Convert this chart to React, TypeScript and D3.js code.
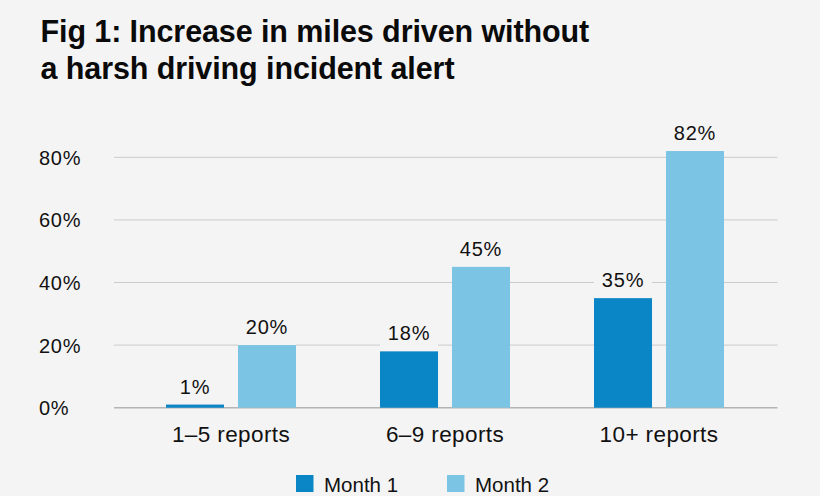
import * as d3 from "d3";

const categories = ["1–5 reports", "6–9 reports", "10+ reports"];
const seriesNames = ["Month 1", "Month 2"];
const month1 = [1, 18, 35];
const month2 = [20, 45, 82];
const yTicks = [0, 20, 40, 60, 80];

const W = 820;
const H = 496;
const BG = "#f5f4f5";
const COLORS = ["#0a85c5", "#7cc4e3"];
const FONT = "'Liberation Sans', Arial, sans-serif";

export default function App() {
	const x0 = d3
		.scaleBand<string>()
		.domain(categories)
		.range([124, 766])
		.paddingInner(0.3925)
		.paddingOuter(0.19625);

	const x1 = d3
		.scaleBand<string>()
		.domain(seriesNames)
		.range([0, x0.bandwidth()])
		.paddingInner(0.194);

	const y = d3.scaleLinear().domain([0, 80]).range([407.7, 157.3]);

	const rows = categories.map((c, i) => ({
		cat: c,
		values: [month1[i], month2[i]],
	}));

	const legendX = d3
		.scaleOrdinal<string, number>()
		.domain(seriesNames)
		.range([296, 447]);

	return (
		<div style={{ position: "fixed", left: 0, top: 0 }}>
			<svg width={W} height={H} style={{ display: "block", fontFamily: FONT }}>
				<rect width={W} height={H} fill={BG} />

				<text fill="#0a0a0a" fontWeight={700} fontSize={30.5} letterSpacing={-0.1}>
					<tspan x={40.5} y={41.5}>Fig 1: Increase in miles driven without</tspan>
					<tspan x={40.5} y={78.5}>a harsh driving incident alert</tspan>
				</text>

				{yTicks.map((t) => (
					<g key={t}>
						<line
							x1={114}
							x2={777.5}
							y1={y(t)}
							y2={y(t)}
							stroke={t === 0 ? "#b4b4b4" : "#cbcbcb"}
							strokeWidth={t === 0 ? 1.6 : 1}
						/>
						<text x={39} y={y(t) + 7.5} fontSize={20} letterSpacing={0.7} fill="#111">
							{t}%
						</text>
					</g>
				))}

				{rows.map((r) => (
					<g key={r.cat} transform={`translate(${x0(r.cat)},0)`}>
						{r.values.map((v, j) => {
							const bx = x1(seriesNames[j]) ?? 0;
							const top = y(v);
							return (
								<g key={j}>
									<rect
										x={bx}
										y={top - 34}
										width={x1.bandwidth()}
										height={34}
										fill={BG}
									/>
									<rect
										x={bx}
										y={top}
										width={x1.bandwidth()}
										height={y(0) - top}
										fill={COLORS[j]}
									/>
									<text
										x={bx + x1.bandwidth() / 2}
										y={top - 11}
										textAnchor="middle"
										fontSize={20}
										letterSpacing={0.8}
										fill="#111"
									>
										{v}%
									</text>
								</g>
							);
						})}
						<text
							x={x0.bandwidth() / 2}
							y={442}
							textAnchor="middle"
							fontSize={22.5}
							letterSpacing={0.4}
							fill="#111"
						>
							{r.cat}
						</text>
					</g>
				))}

				{seriesNames.map((s, i) => (
					<g key={s}>
						<rect x={legendX(s)} y={475} width={17.5} height={17} fill={COLORS[i]} />
						<text x={legendX(s) + 28} y={491.5} fontSize={20.5} fill="#111">
							{s}
						</text>
					</g>
				))}
			</svg>
		</div>
	);
}
